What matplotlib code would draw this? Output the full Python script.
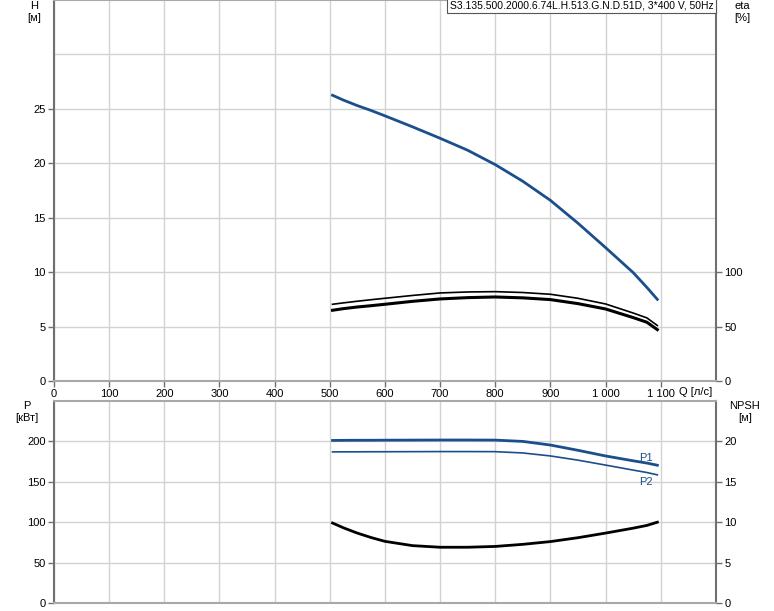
import matplotlib
matplotlib.use('Agg')
import numpy as np
import matplotlib.pyplot as plt

plt.rcParams['font.family'] = ['Liberation Sans', 'DejaVu Sans']
plt.rcParams['font.size'] = 8

# curve data
q = [505, 525, 550, 575, 600, 650, 700, 750, 800, 850, 900, 950, 1000, 1050, 1075, 1094]
head = [26.25, 25.8, 25.3, 24.85, 24.36, 23.35, 22.3, 21.2, 19.88, 18.35, 16.6, 14.5,
        12.26, 9.97, 8.6, 7.5]
eta_pump = [70.5, 71.8, 73.3, 74.7, 76.0, 78.6, 80.9, 81.8, 82.1, 81.3, 79.7, 76.0,
            70.8, 62.5, 58.0, 51.0]
eta_total = [65.0, 66.5, 68.0, 69.2, 70.5, 73.2, 75.4, 76.6, 77.2, 76.4, 74.8, 71.1,
             66.2, 58.3, 54.0, 47.2]
p1 = [201.2, 201.3, 201.4, 201.4, 201.5, 201.6, 201.7, 201.7, 201.6, 200.0, 195.5,
      189.0, 182.0, 176.0, 173.2, 170.5]
p2 = [187.0, 187.1, 187.1, 187.2, 187.2, 187.3, 187.4, 187.4, 187.3, 185.7, 182.0,
      176.8, 170.7, 164.5, 161.5, 158.6]
npsh = [9.9, 9.3, 8.65, 8.1, 7.63, 7.1, 6.9, 6.9, 7.0, 7.26, 7.6, 8.08, 8.65, 9.26,
        9.6, 10.0]

q_ticks = [0, 100, 200, 300, 400, 500, 600, 700, 800, 900, 1000, 1100]
q_labels = ['0', '100', '200', '300', '400', '500', '600', '700', '800', '900',
            '1 000', '1 100']

title = "S3.135.500.2000.6.74L.H.513.G.N.D.51D, 3*400 V, 50Hz"
blue = '#1b4f8c'
grid_c = '#d2d2d2'
spine_c = '#707070'

fig = plt.figure(figsize=(7.74, 6.11), dpi=100)
ax1 = fig.add_axes([0.0698, 0.3764, 0.855, 0.6236])
ax2 = fig.add_axes([0.0698, 0.0131, 0.855, 0.3306])


def style(ax):
    ax.set_xlim(0, 1200)
    ax.set_xticks(q_ticks)
    ax.grid(True, color=grid_c, lw=1.0)
    ax.set_axisbelow(True)
    for s in ['top', 'bottom']:
        ax.spines[s].set_color('#a8a8a8')
        ax.spines[s].set_linewidth(1.5)
    for s in ['left', 'right']:
        ax.spines[s].set_color(spine_c)
        ax.spines[s].set_linewidth(1.5)
    ax.tick_params(length=4, width=1, color=spine_c, pad=2, labelsize=8)


# top: head and efficiency
style(ax1)
ax1.set_ylim(0, 35)
ax1.set_yticks(np.arange(0, 26, 5))
ax1.axhline(30, color=grid_c, lw=1.0, zorder=0)
ax1.axvline(1200, color=grid_c, lw=1.0, zorder=0)
ax1.set_xticklabels(q_labels)
ax1.plot(q, head, color=blue, lw=2)

ax1r = ax1.twinx()
ax1r.set_ylim(0, 350)
ax1r.set_yticks([0, 50, 100])
ax1r.tick_params(length=4, width=1, color=spine_c, pad=2, labelsize=8)
for s in ax1r.spines.values():
    s.set_visible(False)
ax1r.plot(q, eta_pump, color='black', lw=1.2)
ax1r.plot(q, eta_total, color='black', lw=2.2)

# bottom: power and npsh
style(ax2)
ax2.set_ylim(0, 250)
ax2.set_yticks(np.arange(0, 201, 50))
ax2.tick_params(axis='x', labelbottom=False, length=0)
ax2.plot(q, p1, color=blue, lw=2)
ax2.plot(q, p2, color=blue, lw=1.2)
ax2.text(1085, p1[-1] + 3, 'P1', color=blue, ha='right', va='bottom', fontsize=8)
ax2.text(1085, p2[-1] - 3, 'P2', color=blue, ha='right', va='top', fontsize=8)

ax2r = ax2.twinx()
ax2r.set_ylim(0, 25)
ax2r.set_yticks(np.arange(0, 21, 5))
ax2r.tick_params(length=4, width=1, color=spine_c, pad=2, labelsize=8)
for s in ax2r.spines.values():
    s.set_visible(False)
ax2r.plot(q, npsh, color='black', lw=2)

# axis captions
fig.text(34 / 774, 1 - 12 / 611, 'H\n[м]', ha='center', va='center', fontsize=8,
         linespacing=1.3)
fig.text(742 / 774, 1 - 12 / 611, 'eta\n[%]', ha='center', va='center', fontsize=8,
         linespacing=1.3)
fig.text(27 / 774, 1 - 412 / 611, 'P\n[кВт]', ha='center', va='center', fontsize=8,
         linespacing=1.3)
fig.text(745 / 774, 1 - 412 / 611, 'NPSH\n[м]', ha='center', va='center', fontsize=8,
         linespacing=1.3)
fig.text(712 / 774, 1 - 392 / 611, 'Q [л/с]', ha='right', va='center', fontsize=8)

ax1.text(0.9965, 0.999, title, transform=ax1.transAxes, ha='right', va='top',
         fontsize=7.5, bbox=dict(facecolor='white', edgecolor='#555555', lw=0.8,
                                 boxstyle='square,pad=0.25'), zorder=10)

plt.savefig('out.png', dpi=100)
